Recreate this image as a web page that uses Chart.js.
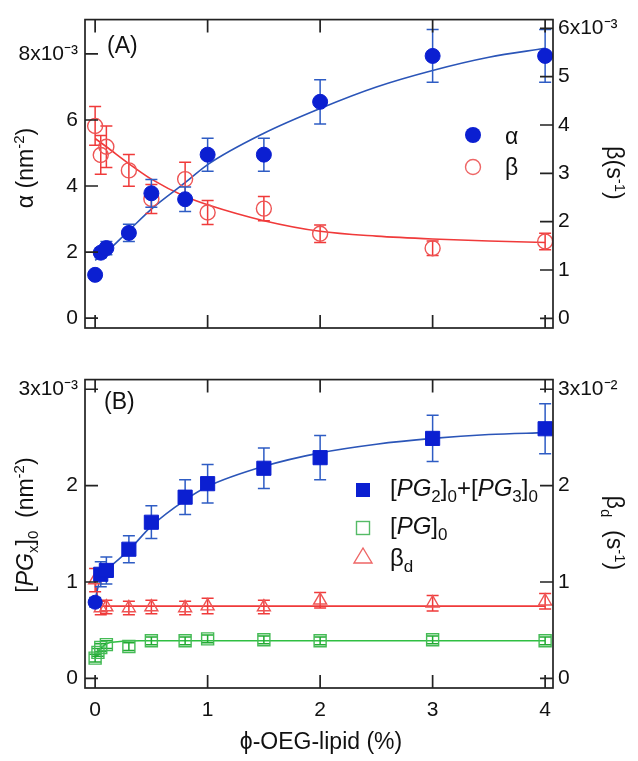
<!DOCTYPE html>
<html>
<head>
<meta charset="utf-8">
<script src="https://cdn.jsdelivr.net/npm/chart.js@4.4.0/dist/chart.umd.min.js"></script>
<style>
  body { margin: 0; background: #fff; }
  #wrap { position: relative; width: 638px; height: 761px; font-family: "Liberation Sans", Arial, sans-serif; color: #111; }
  canvas { position: absolute; left: 0; }
  .t { position: absolute; font-size: 23px; white-space: nowrap; line-height: 1; }
  .rotL { transform: translate(-50%, -50%) rotate(-90deg); }
  .rotR { transform: translate(-50%, -50%) rotate(90deg); }
  .ctr { transform: translate(-50%, -50%); }
  sup, sub { font-size: 15px; line-height: 0; }
  .lg sub { font-size: 17px; }
</style>
</head>
<body>
<div id="wrap">
  <canvas id="chartA" width="638" height="360" style="top:0"></canvas>
  <canvas id="chartB" width="638" height="401" style="top:360px"></canvas>

  <div class="t" style="left:107px; top:34px;">(A)</div>
  <div class="t" style="left:104px; top:390px;">(B)</div>

  <div class="t rotL" style="left:25px; top:168px;">&alpha; (nm<sup>-2</sup>)</div>
  <div class="t rotR" style="left:614px; top:173px;">&beta;(s<sup>-1</sup>)</div>
  <div class="t rotL" style="left:25px; top:525px;">[<i>PG</i><sub>x</sub>]<sub>0</sub>&nbsp; (nm<sup>-2</sup>)</div>
  <div class="t rotR" style="left:614px; top:533px;">&beta;<sub>d</sub>&nbsp; (s<sup>-1</sup>)</div>
  <div class="t ctr" style="left:321px; top:741px; font-size:23px;">&#981;-OEG-lipid (%)</div>

  <!-- legend A -->
  <svg width="20" height="20" style="position:absolute; left:463px; top:125px;"><circle cx="10" cy="10" r="8" fill="#0b1fd1"/></svg>
  <div class="t" style="left:505px; top:125px;">&alpha;</div>
  <svg width="20" height="20" style="position:absolute; left:463px; top:157px;"><circle cx="10" cy="10" r="7.5" fill="none" stroke="#ee6666" stroke-width="1.4"/></svg>
  <div class="t" style="left:505px; top:156px;">&beta;</div>

  <!-- legend B -->
  <svg width="20" height="20" style="position:absolute; left:353px; top:480px;"><rect x="3" y="3" width="14" height="14" fill="#0b1fd1"/></svg>
  <div class="t lg" style="left:390px; top:476px; font-size:24px;">[<i>PG</i><sub>2</sub>]<sub>0</sub>+[<i>PG</i><sub>3</sub>]<sub>0</sub></div>
  <svg width="20" height="20" style="position:absolute; left:353px; top:518px;"><rect x="3.5" y="3.5" width="13" height="13" fill="none" stroke="#55bb66" stroke-width="1.4"/></svg>
  <div class="t lg" style="left:390px; top:514px; font-size:24px;">[<i>PG</i>]<sub>0</sub></div>
  <svg width="24" height="22" style="position:absolute; left:351px; top:545px;"><polygon points="12,3 21,18 3,18" fill="none" stroke="#ee6666" stroke-width="1.4"/></svg>
  <div class="t lg" style="left:390px; top:546px; font-size:24px;">&beta;<sub>d</sub></div>
</div>

<script>
// panel A: alpha (x10^-3 nm^-2, left) and beta (x10^-3 s^-1, right)
const xA = [0, 0.05, 0.1, 0.3, 0.5, 0.8, 1, 1.5, 2, 3, 4];
const alpha = [1.31, 1.98, 2.12, 2.58, 3.78, 3.6, 4.95, 4.95, 6.55, 7.94, 7.94];
const alphaErr = [0, 0.15, 0.2, 0.26, 0.42, 0.37, 0.5, 0.5, 0.67, 0.8, 0.8];
const beta = [3.98, 3.38, 3.55, 3.06, 2.47, 2.88, 2.19, 2.27, 1.75, 1.45, 1.59];
const betaErr = [0.4, 0.4, 0.43, 0.33, 0.3, 0.35, 0.25, 0.25, 0.18, 0.15, 0.17];

const alphaFitX = [0, 0.1, 0.3, 0.5, 0.8, 1, 1.5, 2, 2.5, 3, 3.5, 4];
const alphaFitY = [1.75, 2.0, 2.65, 3.3, 4.1, 4.65, 5.6, 6.35, 7.0, 7.5, 7.9, 8.17];
const betaFitX = [0, 0.1, 0.3, 0.5, 0.8, 1, 1.5, 2, 2.5, 3, 3.5, 4];
const betaFitY = [3.72, 3.55, 3.2, 2.88, 2.52, 2.35, 2.02, 1.8, 1.7, 1.64, 1.6, 1.57];

// panel B: [PG]0 values (x10^-3 nm^-2, left) and beta_d (x10^-2 s^-1, right)
const xB = [0, 0.05, 0.1, 0.3, 0.5, 0.8, 1, 1.5, 2, 3, 4];
const pg23 = [0.79, 1.08, 1.12, 1.34, 1.62, 1.88, 2.02, 2.18, 2.29, 2.49, 2.59];
const pg23Err = [0.05, 0.13, 0.14, 0.14, 0.17, 0.18, 0.2, 0.21, 0.23, 0.24, 0.26];
const betaD = [1.02, 0.73, 0.74, 0.73, 0.74, 0.73, 0.75, 0.74, 0.81, 0.78, 0.8];
const betaDErr = [0.12, 0.07, 0.07, 0.07, 0.07, 0.07, 0.08, 0.07, 0.08, 0.08, 0.08];
const xG = [0, 0.025, 0.05, 0.1, 0.3, 0.5, 0.8, 1, 1.5, 2, 3, 4];
const pg1 = [0.21, 0.27, 0.32, 0.35, 0.33, 0.39, 0.39, 0.41, 0.40, 0.39, 0.40, 0.39];
const pg1Err = [0.04, 0.04, 0.04, 0.04, 0.04, 0.04, 0.04, 0.04, 0.04, 0.04, 0.04, 0.04];

const pg23FitX = [0, 0.05, 0.1, 0.3, 0.5, 0.8, 1, 1.5, 2, 2.5, 3, 3.5, 4];
const pg23FitY = [0.82, 1.05, 1.12, 1.33, 1.58, 1.85, 1.99, 2.2, 2.34, 2.43, 2.49, 2.53, 2.55];
const betaDFitX = [0, 0.03, 0.06, 0.1, 1, 2, 3, 4];
const betaDFitY = [1.0, 0.8, 0.75, 0.75, 0.75, 0.75, 0.75, 0.75];
const pg1FitX = [0, 0.05, 0.1, 0.2, 0.4, 1, 2, 3, 4];
const pg1FitY = [0.21, 0.31, 0.36, 0.38, 0.39, 0.39, 0.39, 0.39, 0.39];

const xTicks = [0, 1, 2, 3, 4];
const yTicksAL = [0, 2, 4, 6, 8];
const yTicksAR = [0, 1, 2, 3, 4, 5, 6];
const yTicksB = [0, 1, 2, 3];

const BLUE = '#0b1fd1', BLUE_LINE = '#2b55b8', RED = '#f03a3a', GREEN = '#2fbf42';

function pts(xs, ys) {
  return xs.map((x, i) => ({ x: x, y: ys[i] }));
}

function topLabel(ticks, exp) {
  const top = ticks[ticks.length - 1];
  return v => (v === top ? v + 'x10' + exp : String(v));
}

const errorBars = {
  id: 'errorBars',
  beforeDatasetDraw(chart, args) {
    const ds = chart.data.datasets[args.index];
    if (!ds.errors) return;
    const ys = chart.scales[ds.yAxisID];
    const ctx = chart.ctx;
    ctx.save();
    ctx.strokeStyle = ds.errorColor;
    ctx.lineWidth = 1.5;
    ctx.beginPath();
    ds.data.forEach((p, i) => {
      const e = ds.errors[i];
      if (!e) return;
      const x = args.meta.data[i].x;
      const y1 = ys.getPixelForValue(p.y + e);
      const y2 = ys.getPixelForValue(p.y - e);
      ctx.moveTo(x, y1); ctx.lineTo(x, y2);
      ctx.moveTo(x - 6, y1); ctx.lineTo(x + 6, y1);
      ctx.moveTo(x - 6, y2); ctx.lineTo(x + 6, y2);
    });
    ctx.stroke();
    ctx.restore();
  }
};

const frameTicks = {
  id: 'frameTicks',
  afterDraw(chart) {
    const { ctx, chartArea: a, scales } = chart;
    const L = 13;
    ctx.save();
    ctx.strokeStyle = '#222';
    ctx.lineWidth = 1.7;
    ctx.strokeRect(a.left, a.top, a.right - a.left, a.bottom - a.top);
    ctx.beginPath();
    scales.x.ticks.forEach(t => {
      const px = scales.x.getPixelForValue(t.value);
      ctx.moveTo(px, a.bottom); ctx.lineTo(px, a.bottom - L);
      ctx.moveTo(px, a.top); ctx.lineTo(px, a.top + L);
    });
    scales.yL.ticks.forEach(t => {
      const py = scales.yL.getPixelForValue(t.value);
      ctx.moveTo(a.left, py); ctx.lineTo(a.left + L, py);
    });
    scales.yR.ticks.forEach(t => {
      const py = scales.yR.getPixelForValue(t.value);
      ctx.moveTo(a.right, py); ctx.lineTo(a.right - L, py);
    });
    ctx.stroke();
    ctx.restore();
  }
};

function makeScales(o) {
  const font = { family: '"Liberation Sans", Arial, sans-serif', size: 21 };
  return {
    x: {
      type: 'linear', min: -0.09, max: 4.07,
      grid: { display: false, drawTicks: false }, border: { display: false },
      ticks: { display: o.showX, font: font, color: '#111', padding: 10, maxRotation: 0 },
      afterBuildTicks: s => { s.ticks = xTicks.map(v => ({ value: v })); },
      afterFit: s => { s.height = o.xHeight; }
    },
    yL: {
      type: 'linear', position: 'left', min: o.lMin, max: o.lMax,
      grid: { display: false, drawTicks: false }, border: { display: false },
      ticks: { font: font, color: '#111', padding: 7, callback: topLabel(o.lTicks, o.lExp) },
      afterBuildTicks: s => { s.ticks = o.lTicks.map(v => ({ value: v })); },
      afterFit: s => { s.width = 85; }
    },
    yR: {
      type: 'linear', position: 'right', min: o.rMin, max: o.rMax,
      grid: { display: false, drawTicks: false }, border: { display: false },
      ticks: { font: font, color: '#111', padding: 5, callback: topLabel(o.rTicks, o.rExp) },
      afterBuildTicks: s => { s.ticks = o.rTicks.map(v => ({ value: v })); },
      afterFit: s => { s.width = 85; }
    }
  };
}

const common = {
  responsive: false,
  animation: false,
  plugins: { legend: { display: false }, tooltip: { enabled: false } },
  elements: { line: { cubicInterpolationMode: 'monotone' } }
};

new Chart(document.getElementById('chartA'), {
  type: 'scatter',
  data: {
    datasets: [
      { data: pts(xA, alpha), yAxisID: 'yL', order: 1, errors: alphaErr, errorColor: '#2e5cc4',
        pointStyle: 'circle', pointRadius: 7.5, backgroundColor: BLUE, borderColor: BLUE, borderWidth: 1 },
      { data: pts(xA, beta), yAxisID: 'yR', order: 2, errors: betaErr, errorColor: RED,
        pointStyle: 'circle', pointRadius: 7.5, backgroundColor: 'rgba(0,0,0,0)', borderColor: '#ee5555', borderWidth: 1.4 },
      { data: pts(alphaFitX, alphaFitY), yAxisID: 'yL', order: 3, showLine: true, pointRadius: 0,
        borderColor: BLUE_LINE, borderWidth: 1.6 },
      { data: pts(betaFitX, betaFitY), yAxisID: 'yR', order: 4, showLine: true, pointRadius: 0,
        borderColor: RED, borderWidth: 1.6 }
    ]
  },
  options: Object.assign({}, common, {
    layout: { padding: { top: 7, bottom: 0, left: 0, right: 0 } },
    scales: makeScales({ showX: false, xHeight: 32,
      lMin: -0.3, lMax: 9.04, lTicks: yTicksAL, lExp: '\u207B\u00B3',
      rMin: -0.2, rMax: 6.18, rTicks: yTicksAR, rExp: '\u207B\u00B3' })
  }),
  plugins: [errorBars, frameTicks]
});

new Chart(document.getElementById('chartB'), {
  type: 'scatter',
  data: {
    datasets: [
      { data: pts(xB, pg23), yAxisID: 'yL', order: 1, errors: pg23Err, errorColor: '#2e5cc4',
        pointStyle: c => (c.dataIndex === 0 ? 'circle' : 'rect'),
        pointRadius: c => (c.dataIndex === 0 ? 7 : 10),
        backgroundColor: BLUE, borderColor: BLUE, borderWidth: 1 },
      { data: pts(xB, betaD), yAxisID: 'yR', order: 2, errors: betaDErr, errorColor: RED,
        pointStyle: 'triangle', pointRadius: 7.5, backgroundColor: 'rgba(0,0,0,0)', borderColor: '#ee5555', borderWidth: 1.4 },
      { data: pts(xG, pg1), yAxisID: 'yL', order: 3, errors: pg1Err, errorColor: '#22aa33',
        pointStyle: 'rect', pointRadius: 8.5, backgroundColor: 'rgba(0,0,0,0)', borderColor: '#44bb55', borderWidth: 1.4 },
      { data: pts(pg23FitX, pg23FitY), yAxisID: 'yL', order: 4, showLine: true, pointRadius: 0,
        borderColor: BLUE_LINE, borderWidth: 1.6 },
      { data: pts(betaDFitX, betaDFitY), yAxisID: 'yR', order: 5, showLine: true, pointRadius: 0,
        borderColor: RED, borderWidth: 1.6 },
      { data: pts(pg1FitX, pg1FitY), yAxisID: 'yL', order: 6, showLine: true, pointRadius: 0,
        borderColor: GREEN, borderWidth: 1.6 }
    ]
  },
  options: Object.assign({}, common, {
    layout: { padding: { top: 5, bottom: 0, left: 0, right: 0 } },
    scales: makeScales({ showX: true, xHeight: 73,
      lMin: -0.1, lMax: 3.1, lTicks: yTicksB, lExp: '\u207B\u00B3',
      rMin: -0.1, rMax: 3.1, rTicks: yTicksB, rExp: '\u207B\u00B2' })
  }),
  plugins: [errorBars, frameTicks]
});
</script>
</body>
</html>
